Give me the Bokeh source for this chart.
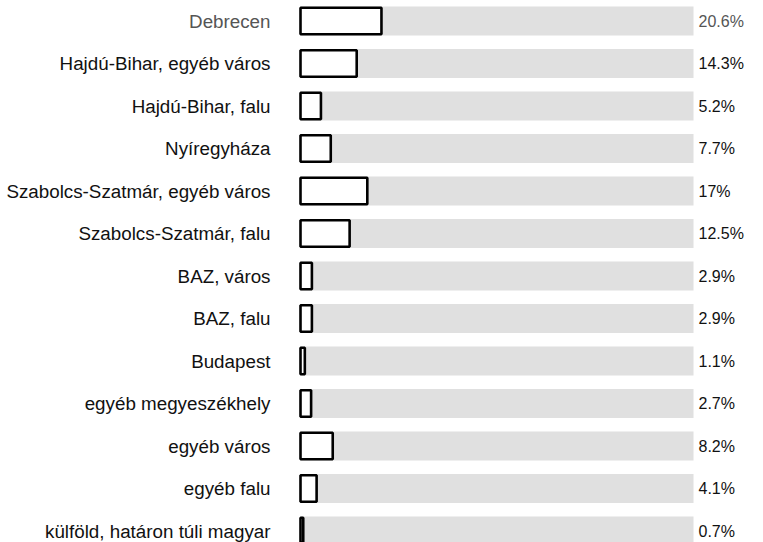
from bokeh.plotting import figure
from bokeh.models import Range1d, ColumnDataSource
from bokeh.core.properties import value
from bokeh.embed import file_html
from bokeh.resources import INLINE

categories = [
    "Debrecen",
    "Hajdú-Bihar, egyéb város",
    "Hajdú-Bihar, falu",
    "Nyíregyháza",
    "Szabolcs-Szatmár, egyéb város",
    "Szabolcs-Szatmár, falu",
    "BAZ, város",
    "BAZ, falu",
    "Budapest",
    "egyéb megyeszékhely",
    "egyéb város",
    "egyéb falu",
    "külföld, határon túli magyar",
]
shares = [20.6, 14.3, 5.2, 7.7, 17, 12.5, 2.9, 2.9, 1.1, 2.7, 8.2, 4.1, 0.7]
value_labels = ["20.6%", "14.3%", "5.2%", "7.7%", "17%", "12.5%", "2.9%",
                "2.9%", "1.1%", "2.7%", "8.2%", "4.1%", "0.7%"]
full_scale = 100

W, H = 755, 542
bar_left_px = 300
bar_right_px = 693
px_per_unit = (bar_right_px - bar_left_px) / full_scale
row_px = 42.5
first_row_px = 20.5

x0 = -bar_left_px / px_per_unit
x1 = (W - bar_left_px) / px_per_unit
y_top = -first_row_px / row_px
y_bot = (H - first_row_px) / row_px

rows = list(range(len(categories)))
colors = ["#555555"] + ["#111111"] * (len(categories) - 1)

src = ColumnDataSource(dict(
    y=rows, cat=categories, v=shares, lab=value_labels,
    full=[full_scale] * len(rows), col=colors,
))

p = figure(width=W, height=H, output_backend="svg", toolbar_location=None,
           x_range=Range1d(x0, x1), y_range=Range1d(y_bot, y_top),
           min_border=0, outline_line_color=None)
p.axis.visible = False
p.grid.visible = False
p.background_fill_color = "white"

bh = 29 / row_px
p.hbar(y="y", left=0, right="full", height=bh, source=src,
       fill_color="#e0e0e0", line_color=None)
p.hbar(y="y", left=0, right="v", height=(29 - 2.6) / row_px, source=src,
       fill_color="white", line_color="black", line_width=2.6)

label_x = (270 - bar_left_px) / px_per_unit
p.text(x=label_x, y="y", text="cat", source=src, text_align="right",
       text_baseline="middle", text_font=value("Liberation Sans"),
       text_font_size="18.8px", text_color="col")

val_x = (698 - bar_left_px) / px_per_unit
p.text(x=val_x, y="y", text="lab", source=src, text_align="left",
       text_baseline="middle", text_font=value("Liberation Sans"),
       text_font_size="16px", text_color="col")

open("out.html", "w").write(file_html(p, INLINE))
